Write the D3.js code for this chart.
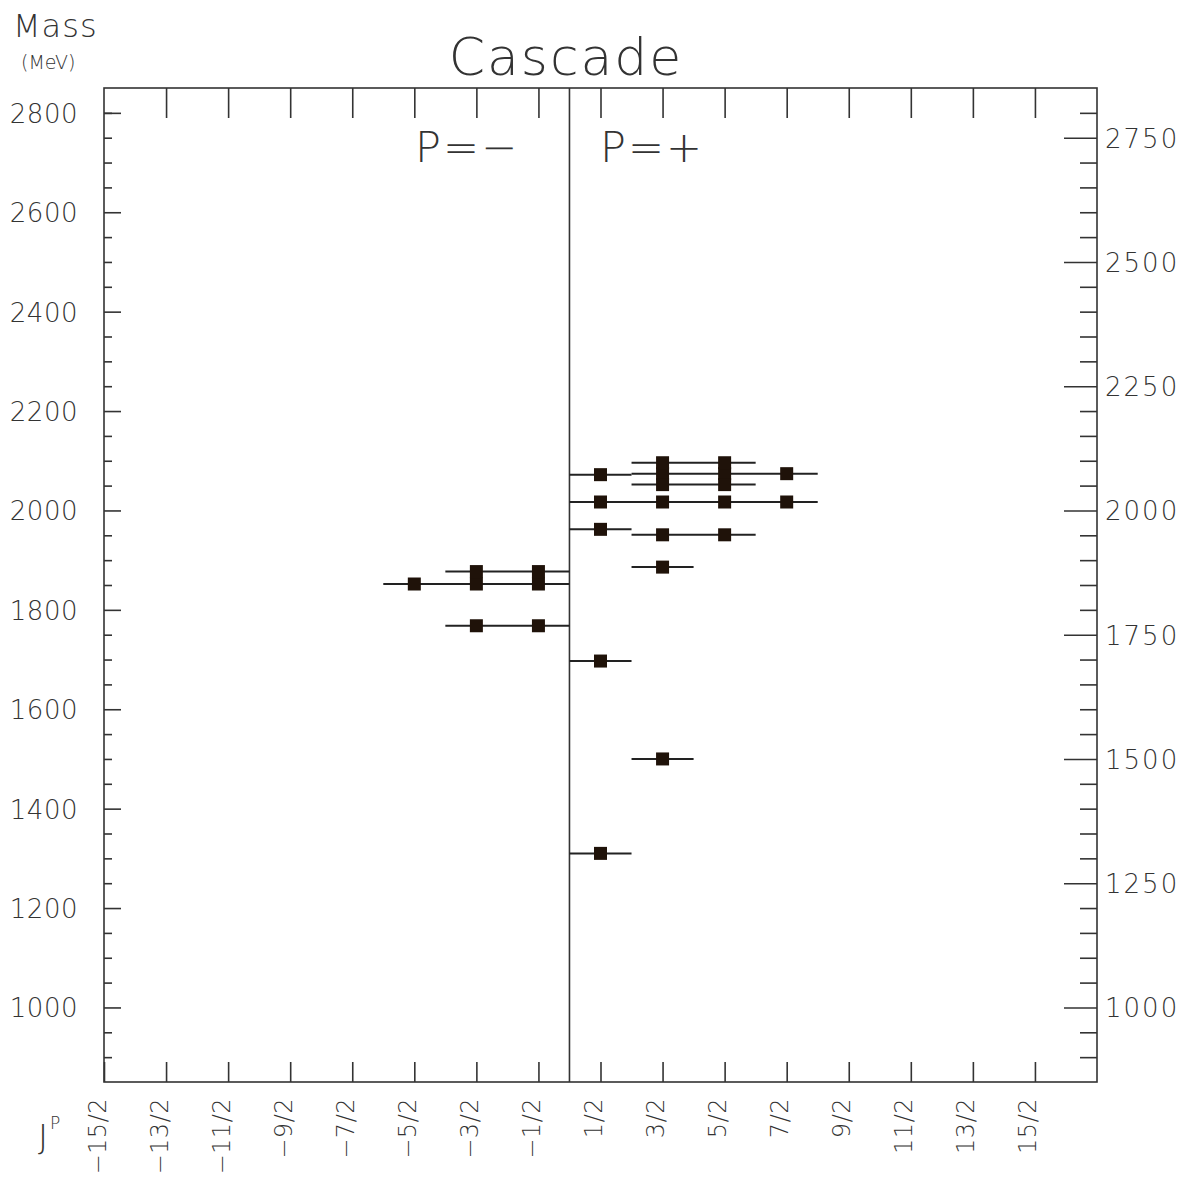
<!DOCTYPE html>
<html>
<head>
<meta charset="utf-8">
<script src="https://cdn.jsdelivr.net/npm/d3@7"></script>
<style>
  html, body { margin: 0; padding: 0; background: #fff; }
  svg { display: block; }
  text { font-family: "DejaVu Sans", "Liberation Sans", sans-serif; font-weight: 200; fill: #333; }
</style>
</head>
<body>
<svg id="chart" width="1187" height="1186"></svg>
<script>
// ---- data ----
const title = "Cascade";
const yTitle = "Mass";
const yUnit = "(MeV)";
const xTitle = "J";
const xTitleSup = "P";
const parityLabels = ["P=\u2212", "P=+"];

const jTicks = [-7.5, -6.5, -5.5, -4.5, -3.5, -2.5, -1.5, -0.5, 0.5, 1.5, 2.5, 3.5, 4.5, 5.5, 6.5, 7.5];
const jTickLabels = ["\u221215/2", "\u221213/2", "\u221211/2", "\u22129/2", "\u22127/2", "\u22125/2", "\u22123/2", "\u22121/2",
                     "1/2", "3/2", "5/2", "7/2", "9/2", "11/2", "13/2", "15/2"];
const leftMajorTicks = [1000, 1200, 1400, 1600, 1800, 2000, 2200, 2400, 2600, 2800];
const rightMajorTicks = [1000, 1250, 1500, 1750, 2000, 2250, 2500, 2750];
const minorTicks = [900, 950, 1050, 1100, 1150, 1250, 1300, 1350, 1450, 1500, 1550, 1650, 1700, 1750,
                    1850, 1900, 1950, 2050, 2100, 2150, 2250, 2300, 2350, 2450, 2500, 2550, 2650, 2700, 2750, 2800];
const rightMinorTicks = [900, 950, 1050, 1100, 1150, 1200, 1300, 1350, 1400, 1450, 1550, 1600, 1650, 1700,
                         1800, 1850, 1900, 1950, 2050, 2100, 2150, 2200, 2300, 2350, 2400, 2450, 2550, 2600,
                         2650, 2700, 2800];

// multiplets: one mass, the J^P values of the states sharing it
const multipletMass = [1310, 1500, 1697, 1768, 1852, 1877, 1886, 1962, 1951, 2017, 2072, 2074, 2096, 2052];
const multipletJ = [
  [0.5],
  [1.5],
  [0.5],
  [-1.5, -0.5],
  [-2.5, -1.5, -0.5],
  [-1.5, -0.5],
  [1.5],
  [0.5],
  [1.5, 2.5],
  [0.5, 1.5, 2.5, 3.5],
  [0.5],
  [1.5, 2.5, 3.5],
  [1.5, 2.5],
  [1.5, 2.5]
];

// ---- layout ----
const svg = d3.select("#chart");
const L = 104, R = 1097, T = 88, B = 1082;
const x = d3.scaleLinear().domain([-7.5, 8.5]).range([L, R]);
const y = d3.scaleLinear().domain([850, 2850]).range([B, T]);
const ink = "#333";

function clean(g) {
  g.select(".domain").remove();
  g.selectAll(".tick line").attr("stroke", ink).attr("stroke-width", 1.6);
}

// frame
svg.append("rect").attr("x", L).attr("y", T).attr("width", R - L).attr("height", B - T)
  .attr("fill", "none").attr("stroke", ink).attr("stroke-width", 1.6);

// center line J=0
svg.append("line").attr("x1", x(0)).attr("x2", x(0)).attr("y1", T).attr("y2", B)
  .attr("stroke", ink).attr("stroke-width", 1.6);

// left axis
svg.append("g").attr("transform", `translate(${L},0)`)
  .call(d3.axisLeft(y).tickValues(leftMajorTicks).tickSize(-17).tickPadding(26).tickFormat(d3.format("d")))
  .call(clean)
  .call(g => g.selectAll("text").attr("font-size", 26).attr("letter-spacing", 0.5)
    .attr("fill", ink).attr("dy", "0.36em"));
svg.append("g").attr("transform", `translate(${L},0)`)
  .call(d3.axisLeft(y).tickValues(minorTicks).tickSize(-8).tickFormat(""))
  .call(clean);

// right axis
svg.append("g").attr("transform", `translate(${R},0)`)
  .call(d3.axisRight(y).tickValues(rightMajorTicks).tickSize(-33).tickPadding(8).tickFormat(d3.format("d")))
  .call(clean)
  .call(g => g.selectAll("text").attr("font-size", 26).attr("letter-spacing", 2)
    .attr("fill", ink).attr("dy", "0.36em"));
svg.append("g").attr("transform", `translate(${R},0)`)
  .call(d3.axisRight(y).tickValues(rightMinorTicks).tickSize(-17).tickFormat(""))
  .call(clean);

// top axis
svg.append("g").attr("transform", `translate(0,${T})`)
  .call(d3.axisTop(x).tickValues(jTicks.slice(1)).tickSize(-30).tickFormat(""))
  .call(clean);

// bottom axis
svg.append("g").attr("transform", `translate(0,${B})`)
  .call(d3.axisBottom(x).tickValues(jTicks).tickSize(-20).tickFormat((d, i) => jTickLabels[i]))
  .call(clean)
  .call(g => g.selectAll("text")
    .attr("transform", "rotate(-90)")
    .attr("text-anchor", "end")
    .attr("x", -16).attr("y", 1).attr("dy", 0)
    .attr("font-size", 24).attr("letter-spacing", 0.5).attr("fill", ink));

// multiplet lines
svg.append("g").selectAll("line").data(multipletMass).join("line")
  .attr("x1", (m, i) => x(d3.min(multipletJ[i]) - 0.5))
  .attr("x2", (m, i) => x(d3.max(multipletJ[i]) + 0.5))
  .attr("y1", m => y(m)).attr("y2", m => y(m))
  .attr("stroke", "#222").attr("stroke-width", 2);

// state markers
const states = multipletMass.flatMap((m, i) => multipletJ[i].map(j => ({ j, m })));
const s = 13;
svg.append("g").selectAll("rect").data(states).join("rect")
  .attr("x", d => x(d.j) - s / 2).attr("y", d => y(d.m) - s / 2)
  .attr("width", s).attr("height", s).attr("fill", "#1f1209");

// titles
svg.append("text").attr("x", 566).attr("y", 75).attr("text-anchor", "middle")
  .attr("font-size", 52).attr("letter-spacing", 2).text(title);
svg.append("text").attr("x", 13).attr("y", 37).attr("font-size", 32).attr("letter-spacing", 1).text(yTitle);
svg.append("text").attr("x", 21).attr("y", 69).attr("font-size", 19).text(yUnit);
svg.append("text").attr("x", 467).attr("y", 162).attr("text-anchor", "middle")
  .attr("font-size", 43).attr("letter-spacing", 2).text(parityLabels[0]);
svg.append("text").attr("x", 652).attr("y", 162).attr("text-anchor", "middle")
  .attr("font-size", 43).attr("letter-spacing", 2).text(parityLabels[1]);
const jp = svg.append("text").attr("x", 38).attr("y", 1149).attr("font-size", 34);
jp.append("tspan").text(xTitle);
jp.append("tspan").attr("font-size", 17).attr("dy", -20).attr("dx", 2).text(xTitleSup);
</script>
</body>
</html>
